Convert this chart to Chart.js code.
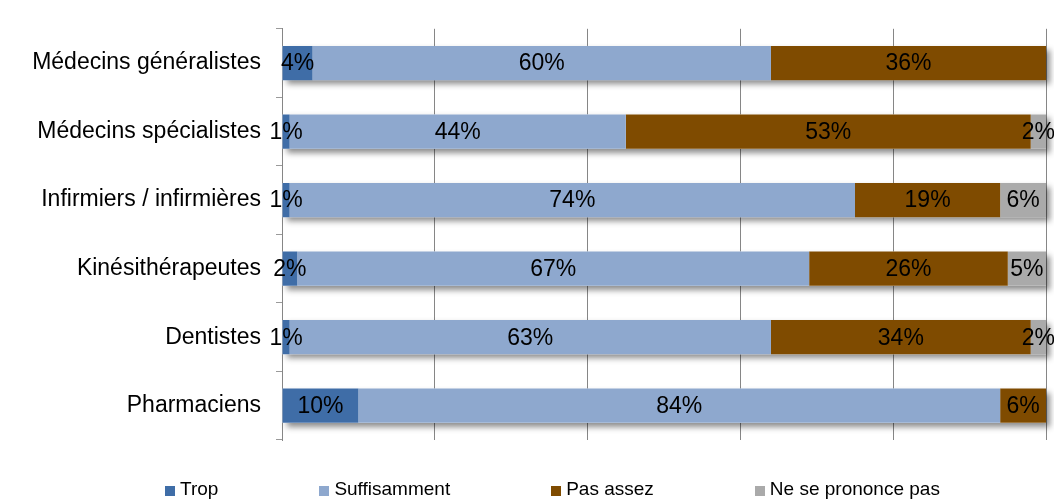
<!DOCTYPE html>
<html>
<head>
<meta charset="utf-8">
<script src="https://cdn.jsdelivr.net/npm/chart.js@4/dist/chart.umd.min.js"></script>
<style>
  html, body { margin: 0; padding: 0; background: #fff; }
  #wrap { position: relative; width: 1054px; height: 503px; }
  #legend {
    position: absolute; left: 165px; top: 478px;
    display: flex; gap: 101px;
    font: 19px "Liberation Sans", Arial, sans-serif; color: #000;
  }
  #legend .item { display: flex; align-items: center; }
  #legend .box { width: 10px; height: 10px; margin-right: 5px; margin-top: 3px; }
</style>
</head>
<body>
<div id="wrap">
  <canvas id="chart" width="1054" height="503"></canvas>
  <div id="legend"></div>
</div>
<script>
const categories = [
  "Médecins généralistes",
  "Médecins spécialistes",
  "Infirmiers / infirmières",
  "Kinésithérapeutes",
  "Dentistes",
  "Pharmaciens"
];
const seriesNames = ["Trop", "Suffisamment", "Pas assez", "Ne se prononce pas"];
const trop = [4, 1, 1, 2, 1, 10];
const suffisamment = [60, 44, 74, 67, 63, 84];
const pasAssez = [36, 53, 19, 26, 34, 6];
const nsp = [0, 2, 6, 5, 2, 0];
const xTicks = [0, 20, 40, 60, 80, 100];

const colors = ["#3F6DA7", "#8EA8CE", "#7F4B00", "#AAAAAA"];
const FONT = "'Liberation Sans', Arial, sans-serif";

/* ===============================
   SHADOW + VALUE LABELS
   =============================== */
const barDecor = {
  id: "barDecor",
  beforeDatasetsDraw(chart) {
    const ctx = chart.ctx;
    const metas = chart.getSortedVisibleDatasetMetas();
    ctx.save();
    ctx.shadowColor = "rgba(0,0,0,0.45)";
    ctx.shadowBlur = 6;
    ctx.shadowOffsetX = 4;
    ctx.shadowOffsetY = 4;
    ctx.fillStyle = "#ffffff";
    categories.forEach((c, i) => {
      let left = Infinity, right = -Infinity, y = 0, h = 0;
      metas.forEach(m => {
        const el = m.data[i];
        left = Math.min(left, el.base, el.x);
        right = Math.max(right, el.base, el.x);
        y = el.y; h = el.height;
      });
      ctx.fillRect(left, y - h / 2, right - left, h);
    });
    ctx.restore();
  },
  afterDatasetsDraw(chart) {
    const ctx = chart.ctx;
    ctx.save();
    ctx.font = "23px " + FONT;
    ctx.fillStyle = "#000";
    ctx.textAlign = "center";
    ctx.textBaseline = "middle";
    chart.getSortedVisibleDatasetMetas().forEach(m => {
      const values = chart.data.datasets[m.index].data;
      m.data.forEach((el, i) => {
        if (!values[i]) return;
        ctx.fillText(values[i] + "%", (el.x + el.base) / 2, el.y + 1);
      });
    });
    ctx.restore();
  }
};

const chart = new Chart(document.getElementById("chart"), {
  type: "bar",
  data: {
    labels: categories,
    datasets: [trop, suffisamment, pasAssez, nsp].map((d, i) => ({
      label: seriesNames[i],
      data: d,
      backgroundColor: colors[i],
      borderWidth: 0,
      barPercentage: 0.5,
      categoryPercentage: 1
    }))
  },
  options: {
    indexAxis: "y",
    responsive: false,
    animation: false,
    layout: { padding: { top: 12, right: 8, bottom: 63, left: 0 } },
    plugins: {
      legend: { display: false },
      tooltip: { enabled: false }
    },
    scales: {
      x: {
        stacked: true,
        min: 0,
        max: 100,
        afterBuildTicks: s => { s.ticks = xTicks.map(v => ({ value: v })); },
        afterFit: s => { s.height = 0; },
        ticks: { display: false },
        grid: { color: "#868686", lineWidth: 1, drawTicks: false },
        border: { display: false }
      },
      y: {
        stacked: true,
        afterFit: s => { s.width = 282; },
        ticks: {
          color: "#000",
          font: { family: FONT, size: 23 },
          padding: 15
        },
        grid: {
          drawOnChartArea: false,
          color: "#9a9a9a",
          tickLength: 6,
          offset: true
        },
        border: { color: "#868686", width: 1 }
      }
    }
  },
  plugins: [barDecor]
});

/* ===============================
   LEGEND
   =============================== */
const legend = document.getElementById("legend");
chart.data.datasets.forEach(ds => {
  const item = document.createElement("div");
  item.className = "item";
  item.innerHTML = `<span class="box" style="background:${ds.backgroundColor}"></span><span>${ds.label}</span>`;
  legend.appendChild(item);
});
</script>
</body>
</html>
